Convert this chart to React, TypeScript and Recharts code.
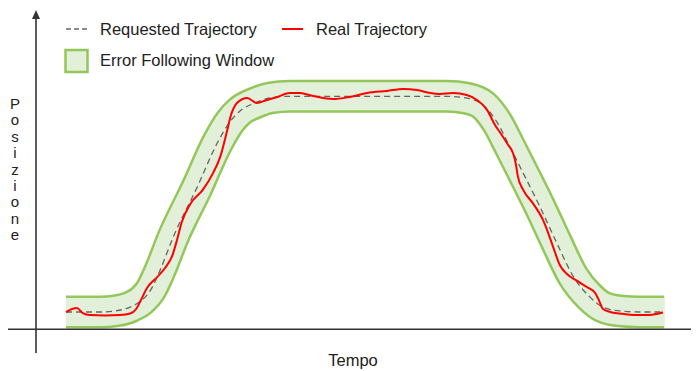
import React from "react";
import { LineChart, Line, XAxis, YAxis, ReferenceLine } from "recharts";

// Requested trajectory (centre of the error-following window)
const requestedTime = [0, 5.7, 8.2, 10.7, 12.7, 14, 15.7, 17.8, 21.8, 25.3, 27.3, 29, 31.5, 34, 37.3, 63.5, 66.8, 69.5, 71.8, 74, 76.2, 79, 81.8, 84.5, 87.3, 89.5, 92.3, 95.7, 99.7];
const requestedPosition = [0, 0, 0.5, 2.3, 5.6, 9.7, 19.5, 34.3, 57.5, 78.8, 88.1, 93.2, 96.9, 99.2, 100, 100, 99.1, 96, 88.1, 76.5, 64.4, 48.7, 32, 16.7, 7, 2.3, 0.5, 0, 0];

// Real trajectory
const realTime = [0, 1, 1.8, 2.8, 4, 6.5, 9, 10.7, 11.7, 12.5, 13.5, 15.2, 16.5, 17.7, 18.5, 19.3, 20.7, 22.8, 24.5, 25.7, 26.8, 27.5, 28.5, 30.2, 31.8, 33.5, 35.2, 37.3, 39, 41.2, 44.5, 47.3, 50.2, 53.5, 56.2, 58.5, 60.7, 62.3, 64.5, 66.8, 68.5, 70.2, 71.5, 72.3, 73.7, 74.5, 75, 75.3, 76.2, 77.8, 79.5, 81.2, 82.3, 83.5, 85.2, 86.8, 88.2, 88.8, 89.5, 90.7, 92.3, 94.8, 96.8, 99.5];
const realPosition = [0, 1.4, 1.9, -0.5, -1.4, -1.6, -1.4, -0.7, 1.4, 5.6, 11.1, 16.2, 20.4, 26, 33.4, 41.7, 50, 56.6, 64.4, 71.9, 83.4, 91.3, 96.9, 99.2, 96.9, 98.3, 99.7, 101.5, 101.5, 100.1, 98.7, 99.7, 101.5, 102.5, 103.4, 102.9, 101.5, 101.1, 101.5, 100.6, 98.3, 93.6, 86.7, 83.4, 77.4, 73.7, 68.2, 63, 56.6, 50.5, 42.7, 30.1, 21.8, 17.6, 14.4, 11.6, 8.8, 5.6, 1.4, 0, -0.7, -1.4, -1.4, -0.2];

const legendLabels = ["Requested Trajectory", "Real Trajectory", "Error Following Window"];
const xAxisLabel = "Tempo";
const yAxisLabel = "Posizione";

const timeDomain: [number, number] = [-10, 105];
const positionDomain: [number, number] = [-19, 140];
const originTime = -5;
const originPosition = -8;

const requestedData = requestedTime.map((t, i) => ({ t, pos: requestedPosition[i] }));
const realData = realTime.map((t, i) => ({ t, pos: realPosition[i] }));

const AXIS = "#333333";
const GREEN = "#94c75a";
const GREEN_FILL = "#e2efd9";
const RED = "#ff0000";
const DASH = "#666666";

const ArrowLine = (props: any) => {
  const { x1, y1, x2, y2, head } = props;
  if ([x1, y1, x2, y2].some((v) => typeof v !== "number" || isNaN(v))) return null;
  const dx = x2 - x1;
  const dy = y2 - y1;
  const len = Math.sqrt(dx * dx + dy * dy) || 1;
  const ux = dx / len;
  const uy = dy / len;
  const px = -uy;
  const py = ux;
  if (head === "filled") {
    const hl = 9;
    const hw = 4;
    const bx = x2 - ux * hl;
    const by = y2 - uy * hl;
    return (
      <g>
        <line x1={x1} y1={y1} x2={bx} y2={by} stroke={AXIS} strokeWidth={1.6} />
        <polygon
          points={`${x2},${y2} ${bx + px * hw},${by + py * hw} ${bx - px * hw},${by - py * hw}`}
          fill={AXIS}
        />
      </g>
    );
  }
  const tipX = x2 + ux * 2;
  const tipY = y2 + uy * 2;
  const hl = 5;
  const hw = 5;
  const bx = tipX - ux * hl;
  const by = tipY - uy * hl;
  return (
    <g>
      <line x1={x1} y1={y1} x2={tipX} y2={tipY} stroke={AXIS} strokeWidth={1.6} />
      <polyline
        points={`${bx + px * hw},${by + py * hw} ${tipX},${tipY} ${bx - px * hw},${by - py * hw}`}
        fill="none"
        stroke={AXIS}
        strokeWidth={1.4}
      />
    </g>
  );
};

export default function App() {
  const font = "'Liberation Sans', Arial, sans-serif";
  return (
    <div style={{ position: "relative", width: 699, height: 371, margin: "-8px 0 0 -8px" }}>
      <LineChart
        width={699}
        height={371}
        margin={{ top: 10, right: 3, bottom: 18, left: 6 }}
      >
        <XAxis type="number" dataKey="t" domain={timeDomain} allowDataOverflow hide />
        <YAxis type="number" dataKey="pos" domain={positionDomain} allowDataOverflow hide />
        <Line
          data={requestedData}
          dataKey="pos"
          type="monotone"
          stroke={GREEN}
          strokeWidth={33}
          strokeLinejoin="round"
          dot={false}
          activeDot={false}
          isAnimationActive={false}
        />
        <Line
          data={requestedData}
          dataKey="pos"
          type="monotone"
          stroke={GREEN_FILL}
          strokeWidth={28}
          strokeLinejoin="round"
          dot={false}
          activeDot={false}
          isAnimationActive={false}
        />
        <Line
          data={requestedData}
          dataKey="pos"
          type="monotone"
          stroke={DASH}
          strokeWidth={1.3}
          strokeDasharray="6 4"
          dot={false}
          activeDot={false}
          isAnimationActive={false}
        />
        <Line
          data={realData}
          dataKey="pos"
          type="monotone"
          stroke={RED}
          strokeWidth={2}
          dot={false}
          activeDot={false}
          isAnimationActive={false}
        />
        <ReferenceLine
          segment={[
            { x: timeDomain[0], y: originPosition },
            { x: timeDomain[1], y: originPosition },
          ]}
          ifOverflow="visible"
          shape={(p: any) => <ArrowLine {...p} head="open" />}
        />
        <ReferenceLine
          segment={[
            { x: originTime, y: positionDomain[0] },
            { x: originTime, y: positionDomain[1] },
          ]}
          ifOverflow="visible"
          shape={(p: any) => <ArrowLine {...p} head="filled" />}
        />
      </LineChart>
      <svg
        width={699}
        height={371}
        style={{ position: "absolute", left: 0, top: 0, pointerEvents: "none" }}
        fontFamily={font}
        fontSize={16.5}
      >
        <line x1={66} y1={29} x2={88} y2={29} stroke={DASH} strokeWidth={1.3} strokeDasharray="5 3" />
        <text x={100} y={35} fill="#222">{legendLabels[0]}</text>
        <line x1={282} y1={29} x2={303} y2={29} stroke={RED} strokeWidth={2} />
        <text x={316} y={35} fill="#222">{legendLabels[1]}</text>
        <rect x={65.5} y={50} width={22} height={22} fill={GREEN_FILL} stroke={GREEN} strokeWidth={2.5} />
        <text x={100} y={66} fill="#222">{legendLabels[2]}</text>
        <text x={353} y={366} textAnchor="middle" fill="#222">{xAxisLabel}</text>
        <text x={15} y={109} textAnchor="middle" fill="#222" fontSize={15}>
          {yAxisLabel.split("").map((ch, i) => (
            <tspan key={i} x={15} dy={i === 0 ? 0 : 16.4}>
              {ch}
            </tspan>
          ))}
        </text>
      </svg>
    </div>
  );
}
